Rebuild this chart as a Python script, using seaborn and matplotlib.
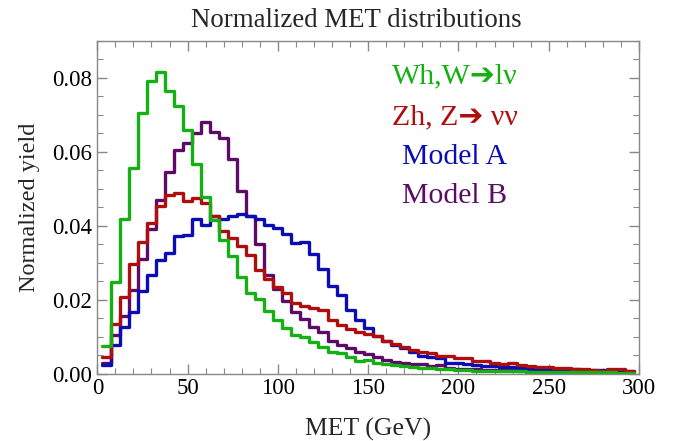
import numpy as np
import pandas as pd
import matplotlib
matplotlib.use("Agg")
import matplotlib.pyplot as plt
import seaborn as sns
from matplotlib.ticker import MultipleLocator

# bin centres in GeV (5 GeV bins)
met_centers = list(range(5, 300, 5))

wh_yield = [0.0074, 0.0249, 0.0419, 0.0555, 0.0705, 0.0791, 0.0816, 0.0764, 0.0723, 0.0658,
            0.0568, 0.0478, 0.0416, 0.0362, 0.0318, 0.0261, 0.0219, 0.0203, 0.0170, 0.0146,
            0.0122, 0.0104, 0.0099, 0.0085, 0.0072, 0.0057, 0.0055, 0.0045, 0.0034, 0.0036,
            0.0029, 0.0026, 0.0023, 0.0020, 0.0017, 0.0015, 0.0014, 0.0012, 0.0011, 0.0010,
            0.0009, 0.0008, 0.0008, 0.0007, 0.0007, 0.0006, 0.0006, 0.0005, 0.0005, 0.0005,
            0.0004, 0.0004, 0.0004, 0.0003, 0.0003, 0.0003, 0.0003, 0.0002, 0.0002]
zh_yield = [0.0045, 0.0135, 0.0208, 0.0297, 0.0356, 0.0407, 0.0454, 0.0482, 0.0488, 0.0466,
            0.0474, 0.0462, 0.0427, 0.0387, 0.0366, 0.0345, 0.0320, 0.0280, 0.0257, 0.0235,
            0.0217, 0.0192, 0.0183, 0.0177, 0.0172, 0.0145, 0.0131, 0.0120, 0.0113, 0.0107,
            0.0101, 0.0089, 0.0079, 0.0072, 0.0064, 0.0059, 0.0055, 0.0047, 0.0047, 0.0041,
            0.0043, 0.0035, 0.0035, 0.0029, 0.0026, 0.0029, 0.0024, 0.0021, 0.0018, 0.0019,
            0.0016, 0.0014, 0.0013, 0.0012, 0.0009, 0.0008, 0.0011, 0.0011, 0.0008]
model_a_yield = [0.0023, 0.0077, 0.0126, 0.0167, 0.0224, 0.0266, 0.0307, 0.0325, 0.0372, 0.0374,
                 0.0419, 0.0402, 0.0426, 0.0419, 0.0426, 0.0432, 0.0426, 0.0419, 0.0403, 0.0395,
                 0.0377, 0.0352, 0.0356, 0.0324, 0.0282, 0.0236, 0.0212, 0.0172, 0.0145, 0.0122,
                 0.0101, 0.0089, 0.0077, 0.0068, 0.0059, 0.0047, 0.0045, 0.0041, 0.0029, 0.0028,
                 0.0026, 0.0023, 0.0021, 0.0021, 0.0017, 0.0017, 0.0015, 0.0014, 0.0013, 0.0013,
                 0.0012, 0.0012, 0.0011, 0.0010, 0.0010, 0.0009, 0.0009, 0.0008, 0.0008]
model_b_yield = [0.0029, 0.0104, 0.0157, 0.0226, 0.0311, 0.0392, 0.0470, 0.0545, 0.0606, 0.0623,
                 0.0651, 0.0680, 0.0655, 0.0637, 0.0582, 0.0494, 0.0426, 0.0350, 0.0266, 0.0230,
                 0.0196, 0.0167, 0.0148, 0.0126, 0.0113, 0.0089, 0.0077, 0.0068, 0.0059, 0.0053,
                 0.0045, 0.0036, 0.0032, 0.0029, 0.0027, 0.0026, 0.0020, 0.0022, 0.0014, 0.0013,
                 0.0012, 0.0011, 0.0010, 0.0010, 0.0009, 0.0009, 0.0008, 0.0008, 0.0007, 0.0007,
                 0.0006, 0.0006, 0.0006, 0.0005, 0.0005, 0.0005, 0.0004, 0.0004, 0.0004]

sample_names = ["Wh,W\u2794l\u03bd", "Zh, Z\u2794 \u03bd\u03bd", "Model A", "Model B"]
sample_colors = ["#14b014", "#b00e0e", "#0c0cb4", "#5c0c66"]

frames = []
for name, vals in zip(sample_names, [wh_yield, zh_yield, model_a_yield, model_b_yield]):
    frames.append(pd.DataFrame({"MET": met_centers, "yield": vals, "sample": name}))
df = pd.concat(frames, ignore_index=True)

sns.set_style("ticks")
plt.rcParams["font.family"] = ["Liberation Serif", "DejaVu Sans"]

fig = plt.figure(figsize=(6.74, 4.41), dpi=100)
ax = fig.add_axes([0.1444, 0.153, 0.8036, 0.754])

# 59 bins of 5 GeV, centred on the multiples of 5
sns.histplot(data=df, x="MET", weights="yield", hue="sample", hue_order=sample_names,
             bins=len(met_centers), binrange=(2.5, 297.5), element="step", fill=False,
             linewidth=2.4, palette=dict(zip(sample_names, sample_colors)),
             legend=False, ax=ax)

ax.set_xlim(0, 300)
ax.set_ylim(0, 0.09)
ax.set_xticks([0, 50, 100, 150, 200, 250, 300])
ax.set_yticks([0.0, 0.02, 0.04, 0.06, 0.08])
ax.set_yticklabels(["0.00", "0.02", "0.04", "0.06", "0.08"])
ax.xaxis.set_minor_locator(MultipleLocator(10))
ax.yaxis.set_minor_locator(MultipleLocator(0.005))
ax.tick_params(which="both", direction="in", top=True, right=True, colors="#888888",
               labelcolor="black", labelsize=16.5)
ax.tick_params(which="major", length=7, width=1)
ax.tick_params(which="minor", length=4, width=0.8)
for sp in ax.spines.values():
    sp.set_color("#888888")
    sp.set_linewidth(1)

ax.set_xlabel("MET (GeV)", fontsize=18.5, labelpad=13)
ax.set_ylabel("Normalized yield", fontsize=17.5, labelpad=9)
ax.text(0.478, 1.042, "Normalized MET distributions", transform=ax.transAxes,
        ha="center", va="baseline", fontsize=19.4)

label_y = [0.895, 0.771, 0.651, 0.534]
for name, col, yy in zip(sample_names, sample_colors, label_y):
    ax.text(0.66, yy, name, color=col, transform=ax.transAxes, ha="center", va="center",
            fontsize=21.5)

fig.savefig("out.png", dpi=100)
